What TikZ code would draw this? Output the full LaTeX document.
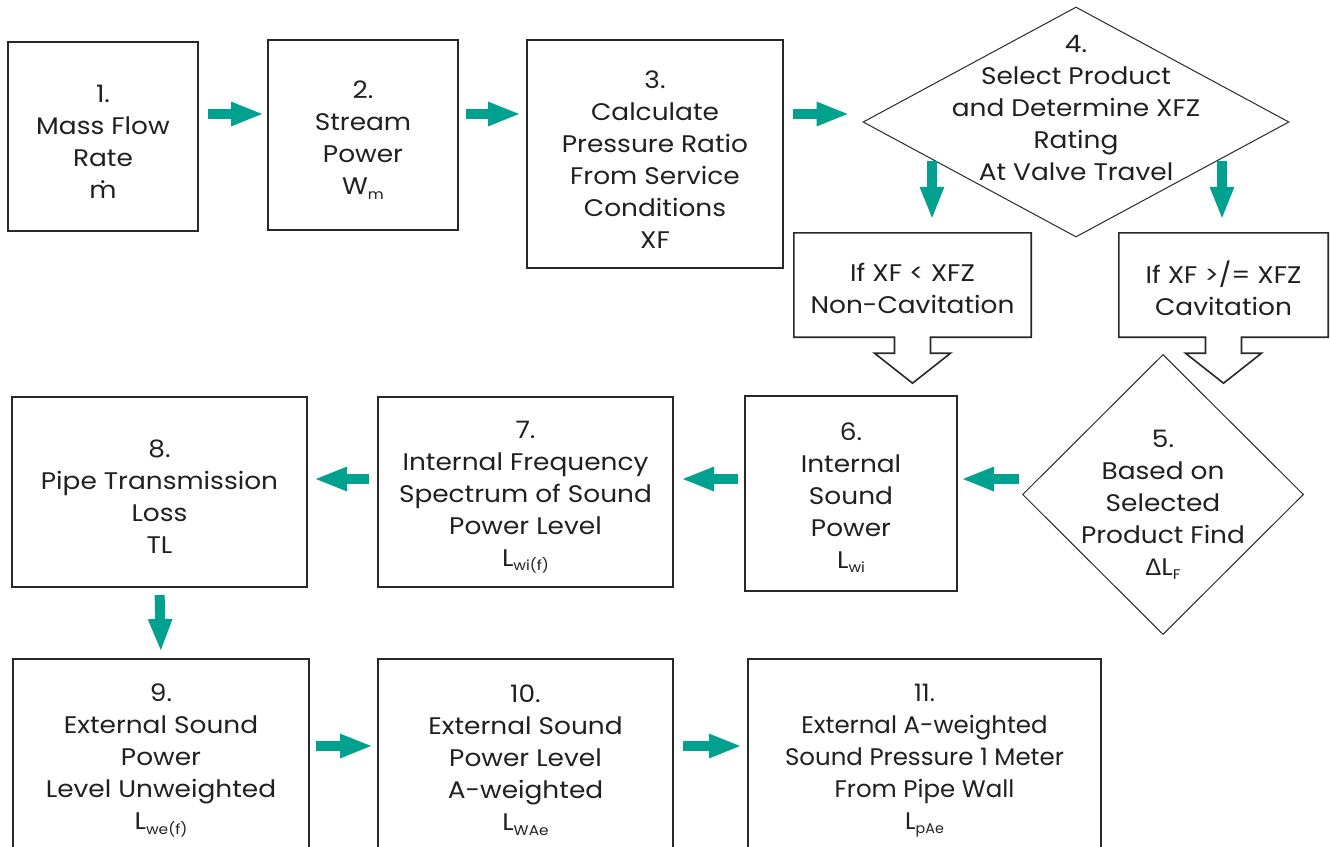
\documentclass[tikz,border=0pt]{standalone}
\usepackage{fontspec}
\setmainfont{Poppins}[FakeStretch=1.1]
\newfontfamily\narrowfont{Poppins}[FakeStretch=1.02]
\newfontfamily\grkfont{Liberation Sans}
\usetikzlibrary{arrows.meta,positioning,shapes.geometric,calc}
\definecolor{flowteal}{RGB}{0,161,142}
\definecolor{linedark}{RGB}{40,40,40}
\definecolor{textdark}{RGB}{35,31,32}
\newcommand{\lsub}[1]{\raisebox{-0.35ex}{\fontsize{14}{14}\selectfont #1}}
\newcommand{\mdot}{\ooalign{m\cr\hidewidth\raisebox{0.6em}{.}\hidewidth\cr}}
\tikzset{
  box/.style={
    draw=linedark,
    line width=2pt,
    inner sep=0pt
  },
  txt/.style={align=center, inner sep=0pt, text=textdark, font=\fontsize{24}{32}\selectfont},
  decision/.style={diamond, draw=linedark, line width=1pt, inner sep=0pt},
  callout/.style={draw=linedark, line width=1.6pt, fill=white, line join=miter},
  flow/.style={-{Triangle[length=33pt,width=22pt]}, line width=10pt, draw=flowteal}
}
\begin{document}
\begin{tikzpicture}[x=1pt, y=-1pt]
  \clip (0,0) rectangle (1330,846);
  \coordinate (row1) at (0,114);
  \coordinate (row2) at (0,479);
  \coordinate (row3) at (0,746);

  % top row
  \node[box, minimum width=190pt, minimum height=189pt] (b1) at (103,136.5) {};
  \node[txt] (b1txt) at ([yshift=-5pt]b1) {1.\\Mass Flow\\Rate\\\mdot};
  \node[box, minimum width=190pt, minimum height=190pt] (b2) at (363,135) {};
  \node[txt] (b2txt) at ([yshift=-5pt]b2) {2.\\Stream\\Power\\W\lsub{m}};
  \node[box, minimum width=256pt, minimum height=228pt] (b3) at (655,154) {};
  \node[txt] (b3txt) at ([yshift=-6pt]b3) {3.\\Calculate\\Pressure Ratio\\From Service\\Conditions\\XF};
  \node[decision, minimum width=426pt, minimum height=230pt] (d4) at (1076,122) {};
  \node[txt] (d4txt) at (1076,108) {4.\\Select Product\\and Determine XFZ\\Rating\\At Valve Travel};

  % decision outcomes
  \node[minimum width=237pt, minimum height=104pt, inner sep=0pt] (c1) at (912.5,285) {};
  \node[minimum width=209pt, minimum height=104pt, inner sep=0pt] (c2) at (1223.5,285) {};
  \foreach \c in {c1,c2} {
    \draw[callout] (\c.south west) -- (\c.north west) -- (\c.north east) -- (\c.south east)
      -- ($(\c.south)+(18,0)$) -- ++(0,16) -- ++(20,0) -- ($(\c.south)+(0,46)$)
      -- ($(\c.south)+(-38,16)$) -- ++(20,0) -- ++(0,-16) -- cycle;
  }
  \node[txt] (c1txt) at ([yshift=-3pt]c1) {If XF < XFZ\\Non-Cavitation};
  \node[txt] (c2txt) at ([yshift=-3pt]c2) {If XF >/= XFZ\\Cavitation};

  % middle row
  \node[decision, minimum width=281pt, minimum height=280pt] (d5) at (1163,494.5) {};
  \node[txt] (d5txt) at (1163,505) {5.\\Based on\\Selected\\Product Find\\{\grkfont Δ}L\lsub{F}};
  \node[box, minimum width=212pt, minimum height=195pt] (b6) at (851,493.5) {};
  \node[txt] (b6txt) at ([yshift=-4pt]b6) {6.\\Internal\\Sound\\Power\\L\lsub{wi}};
  \node[box, minimum width=295pt, minimum height=190pt] (b7) at (525.5,492) {};
  \node[txt] (b7txt) at ([yshift=-5pt]b7) {7.\\Internal Frequency\\Spectrum of Sound\\Power Level\\L\lsub{wi(f)}};
  \node[box, minimum width=295pt, minimum height=190pt] (b8) at (159.5,492) {};
  \node[txt] (b8txt) at ([yshift=-5pt]b8) {8.\\Pipe Transmission\\Loss\\TL};

  % bottom row
  \node[box, minimum width=296pt, minimum height=193pt] (b9) at (161,755.5) {};
  \node[txt] (b9txt) at ([yshift=-5pt]b9) {9.\\External Sound\\Power\\Level Unweighted\\L\lsub{we(f)}};
  \node[box, minimum width=295pt, minimum height=193pt] (b10) at (525.5,755.5) {};
  \node[txt] (b10txt) at ([yshift=-5pt]b10) {10.\\External Sound\\Power Level\\A-weighted\\L\lsub{WAe}};
  \node[box, minimum width=353pt, minimum height=193pt] (b11) at (924.5,755.5) {};
  \node[txt, font=\fontsize{24}{32}\narrowfont] (b11txt) at ([yshift=-5pt]b11) {11.\\External A-weighted\\Sound Pressure 1 Meter\\From Pipe Wall\\L\lsub{pAe}};

  % arrows
  \draw[flow, shorten <=9pt, shorten >=3pt] (b1.east |- row1) -- (b2.west |- row1);
  \draw[flow, shorten <=7pt, shorten >=5pt] (b2.east |- row1) -- (b3.west |- row1);
  \draw[flow, shorten <=9pt, shorten >=13pt] (b3.east |- row1) -- (d4.west |- row1);
  \coordinate (x1) at (932,161);
  \coordinate (x2) at (1222,161);
  \draw[flow, shorten >=13pt] (x1) -- (x1 |- c1.north);
  \draw[flow, shorten >=13pt] (x2) -- (x2 |- c2.north);
  \draw[flow, shorten <=3pt, shorten >=3pt] (d5.west |- row2) -- (b6.east |- row2);
  \draw[flow, shorten <=6pt, shorten >=7pt] (b6.west |- row2) -- (b7.east |- row2);
  \draw[flow, shorten <=8pt, shorten >=6pt] (b7.west |- row2) -- (b8.east |- row2);
  \draw[flow, shorten <=7pt, shorten >=6pt] (b8.south) -- (b9.north);
  \draw[flow, shorten <=6pt, shorten >=4pt] (b9.east |- row3) -- (b10.west |- row3);
  \draw[flow, shorten <=9pt, shorten >=5pt] (b10.east |- row3) -- (b11.west |- row3);
\end{tikzpicture}
\end{document}
